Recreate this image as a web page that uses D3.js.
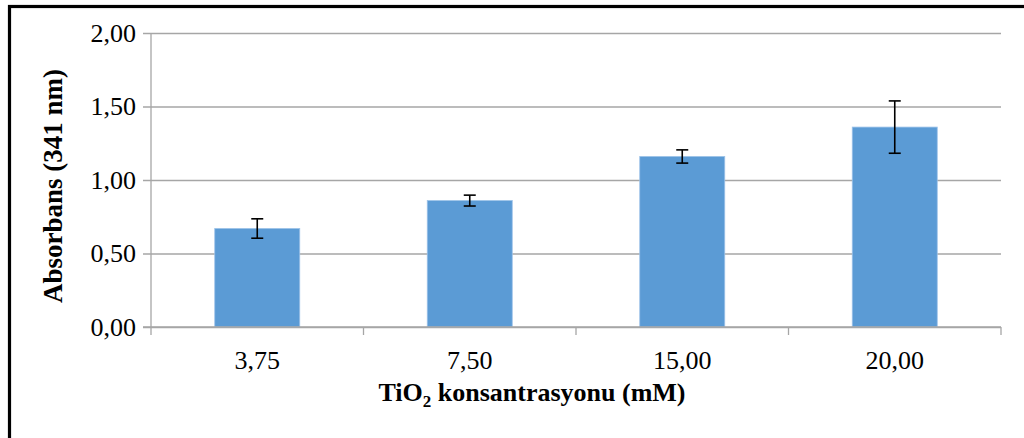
<!DOCTYPE html>
<html>
<head>
<meta charset="utf-8">
<script src="https://cdn.jsdelivr.net/npm/d3@7"></script>
<style>
  html, body { margin: 0; padding: 0; background: #fff; }
  svg { display: block; }
  text { font-family: "Liberation Serif", "Times New Roman", serif; fill: #000; }
</style>
</head>
<body>
<svg id="chart" width="1024" height="438"></svg>
<script>
// TiO2 concentration groups and measured absorbance at 341 nm
const categories = ["3,75", "7,50", "15,00", "20,00"];
const absorbance = [0.67, 0.86, 1.16, 1.36];
const errors = [0.066, 0.037, 0.045, 0.178];
const yTicks = [0, 0.5, 1.0, 1.5, 2.0];

const svg = d3.select("#chart");

// outer chart frame (only top and left edges fall inside the canvas)
svg.append("rect")
  .attr("x", 9.5).attr("y", 6.5)
  .attr("width", 1040).attr("height", 460)
  .attr("fill", "none").attr("stroke", "#000").attr("stroke-width", 3.2);

const plot = { left: 151, right: 1001, top: 33, bottom: 327 };

const x = d3.scaleBand()
  .domain(categories)
  .range([plot.left, plot.right])
  .paddingInner(0.6)
  .paddingOuter(0.3);

const y = d3.scaleLinear()
  .domain([0, 2])
  .range([plot.bottom, plot.top]);

const fmt = v => d3.format(".2f")(v).replace(".", ",");
const gridColor = "#a6a6a6";
const tickFont = 26;

// horizontal gridlines with y-axis labels
const yAxis = d3.axisLeft(y)
  .tickValues(yTicks)
  .tickFormat(fmt)
  .tickSize(-(plot.right - plot.left))
  .tickPadding(15);

const gy = svg.append("g")
  .attr("transform", `translate(${plot.left},0)`)
  .call(yAxis)
  .attr("font-family", null)
  .attr("font-size", null);
gy.select(".domain").remove();
gy.selectAll(".tick line")
  .attr("x1", -8)
  .attr("stroke", gridColor).attr("stroke-width", 1.3);
gy.selectAll(".tick text")
  .attr("font-size", tickFont)
  .attr("fill", "#000");

// vertical axis line
svg.append("line")
  .attr("x1", plot.left).attr("x2", plot.left)
  .attr("y1", plot.top).attr("y2", plot.bottom + 8)
  .attr("stroke", gridColor).attr("stroke-width", 1.3);

// category boundary ticks on the x axis
const gap = (x.step() - x.bandwidth()) / 2;
const boundaries = categories.map(c => x(c) - gap).slice(1).concat([plot.right]);
svg.append("g").selectAll("line")
  .data(boundaries)
  .join("line")
  .attr("x1", d => d).attr("x2", d => d)
  .attr("y1", plot.bottom).attr("y2", plot.bottom + 8)
  .attr("stroke", gridColor).attr("stroke-width", 1.3);

// bars
const rows = categories.map((c, i) => ({ c, v: absorbance[i], e: errors[i] }));
svg.append("g").selectAll("rect")
  .data(rows)
  .join("rect")
  .attr("x", d => x(d.c))
  .attr("y", d => y(d.v))
  .attr("width", x.bandwidth())
  .attr("height", d => y(0) - y(d.v))
  .attr("fill", "#5b9bd5")
  .attr("stroke", "#9cc2e8")
  .attr("stroke-width", 0.8);

// x-axis baseline drawn over the bar bottoms
svg.append("line")
  .attr("x1", plot.left - 8).attr("x2", plot.right)
  .attr("y1", plot.bottom).attr("y2", plot.bottom)
  .attr("stroke", gridColor).attr("stroke-width", 1.3);

// error bars
const eb = svg.append("g").attr("stroke", "#000").attr("stroke-width", 1.6);
rows.forEach(d => {
  const cx = x(d.c) + x.bandwidth() / 2;
  const yt = y(d.v + d.e), yb = y(d.v - d.e);
  eb.append("line").attr("x1", cx).attr("x2", cx).attr("y1", yt).attr("y2", yb);
  eb.append("line").attr("x1", cx - 6).attr("x2", cx + 6).attr("y1", yt).attr("y2", yt);
  eb.append("line").attr("x1", cx - 6).attr("x2", cx + 6).attr("y1", yb).attr("y2", yb);
});

// category labels
svg.append("g").selectAll("text")
  .data(categories)
  .join("text")
  .attr("x", d => x(d) + x.bandwidth() / 2)
  .attr("y", 369)
  .attr("text-anchor", "middle")
  .attr("font-size", tickFont)
  .text(d => d);

// axis titles
const xt = svg.append("text")
  .attr("x", 532).attr("y", 401)
  .attr("text-anchor", "middle")
  .attr("font-size", 26)
  .attr("font-weight", "bold");
xt.append("tspan").text("TiO");
xt.append("tspan").attr("font-size", 17).attr("dy", 6).text("2");
xt.append("tspan").attr("dy", -6).text(" konsantrasyonu (mM)");

svg.append("text")
  .attr("transform", "translate(62,186) rotate(-90)")
  .attr("text-anchor", "middle")
  .attr("font-size", 27)
  .attr("font-weight", "bold")
  .text("Absorbans (341 nm)");
</script>
</body>
</html>
